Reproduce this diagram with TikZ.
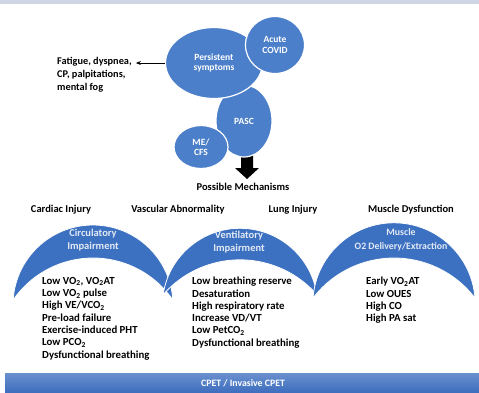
\documentclass[tikz,border=0pt]{standalone}
\usepackage{fontspec}
\setmainfont{Carlito}
\usetikzlibrary{shapes.geometric,arrows.meta}
\definecolor{blobblue}{HTML}{4C7FC9}
\definecolor{arcblue}{HTML}{3C70C0}
\definecolor{bandblue}{HTML}{3E6EBE}
\definecolor{bandlight}{HTML}{6A90CF}
\definecolor{striptop}{HTML}{CED6E3}
\definecolor{arctext}{HTML}{E3EAF6}
\newcommand\crescentband[5]{%
  \pgfmathsetmacro\crD{#4-#2}%
  \pgfmathsetmacro\crU{(#3*#3-#5*#5+(\crD)*(\crD))/(2*(\crD))}%
  \pgfmathsetmacro\crH{sqrt(#3*#3-(\crU)*(\crU))}%
  \pgfmathsetmacro\crAo{atan2(\crU,\crH)}%
  \pgfmathsetmacro\crAoL{-180-(\crAo)}%
  \pgfmathsetmacro\crAi{atan2((\crU)-(\crD),\crH)}%
  \pgfmathsetmacro\crAiL{-180-(\crAi)}%
  \pgfmathsetmacro\crXL{#1-(\crH)}%
  \pgfmathsetmacro\crY{#2+(\crU)}%
  \filldraw[fill=arcblue, draw=white, line width=0.8pt] (\crXL,\crY)
    arc[start angle=\crAoL, end angle=\crAo, radius=#3]
    arc[start angle=\crAi, end angle=\crAiL, radius=#5] -- cycle;}
\begin{document}
\begin{tikzpicture}[x=1pt,y=-1pt,
  blob/.style={ellipse, fill=blobblue, draw=white, line width=1.2pt, inner sep=0pt,
    text=white, font=\fontsize{9.5}{10.5}\selectfont\bfseries, align=center},
  lbl/.style={font=\fontsize{10.5}{12}\selectfont\bfseries, inner sep=0pt},
  listtxt/.style={font=\fontsize{10.8}{12.3}\selectfont\bfseries, align=left, anchor=north west, inner sep=0pt},
  arctxt/.style={font=\fontsize{10.5}{13.5}\selectfont\bfseries, text=arctext, align=center, inner sep=0pt},
  arr/.style={-{Stealth[length=5pt,width=4pt]}, line width=0.8pt}]
\useasboundingbox (0,0) rectangle (479,392);
\fill[white] (0,0) rectangle (479,392);
\fill[striptop] (0,0) rectangle (479,4);
% block arrow
\fill[black] (241,152) -- (253,152) -- (253,168) -- (259,168) -- (247,179) -- (235,168) -- (241,168) -- cycle;
% blobs
\node[blob, minimum width=56pt, minimum height=72pt] (pasc) at (244,121) {PASC};
\node[blob, minimum width=97pt, minimum height=71pt] (pers) at (214,63) {Persistent\\symptoms};
\node[blob, minimum width=59pt, minimum height=57pt] (acute) at (275,45) {Acute\\COVID};
\node[blob, minimum width=54pt, minimum height=43pt] (mecfs) at (201,147) {ME/\\CFS};
\node[listtxt, font=\fontsize{10.3}{13}\selectfont\bfseries] (fatigue) at (57,57) {Fatigue, dyspnea,\\CP, palpitations,\\mental fog};
\draw[arr, shorten >=4pt] (pers.west) -- (fatigue.east |- pers.west);
\node[lbl] (poss) at (243,187) {Possible Mechanisms};
% mechanisms
\node[lbl] (cardiac) at (61,210) {Cardiac Injury};
\node[lbl] (vasc) at (178,210) {Vascular Abnormality};
\node[lbl] (lung) at (293,210) {Lung Injury};
\node[lbl] (muscle) at (411,210) {Muscle Dysfunction};
% arcs
\crescentband{93}{305}{80}{355}{97}
\crescentband{240}{306}{77.7}{362}{102.2}
\crescentband{394}{304}{81.2}{360}{102}
\node[arctxt] (circ) at (93,240) {Circulatory\\Impairment};
\node[arctxt] (vent) at (239,242) {Ventilatory\\Impairment};
\node[arctxt, font=\fontsize{9.8}{13.5}\selectfont\bfseries] (musc) at (401,240) {Muscle\\O2 Delivery/Extraction};
% lists
\node[listtxt] (circlist) at (42,277) {Low VO\textsubscript{2}, VO\textsubscript{2}AT\\Low VO\textsubscript{2} pulse\\High VE/VCO\textsubscript{2}\\Pre-load failure\\Exercise-induced PHT\\Low PCO\textsubscript{2}\\Dysfunctional breathing};
\node[listtxt] (ventlist) at (192,277) {Low breathing reserve\\Desaturation\\High respiratory rate\\Increase VD/VT\\Low PetCO\textsubscript{2}\\Dysfunctional breathing};
\node[listtxt] (muslist) at (366,277) {Early VO\textsubscript{2}AT\\Low OUES\\High CO\\High PA sat};
% bottom band
\shade[top color=bandlight, bottom color=bandblue] (5,373) rectangle (479,392);
\node[font=\fontsize{9.8}{11}\selectfont\bfseries, text=white, inner sep=0pt] (cpet) at (243,383) {CPET / Invasive CPET};
\end{tikzpicture}
\end{document}
